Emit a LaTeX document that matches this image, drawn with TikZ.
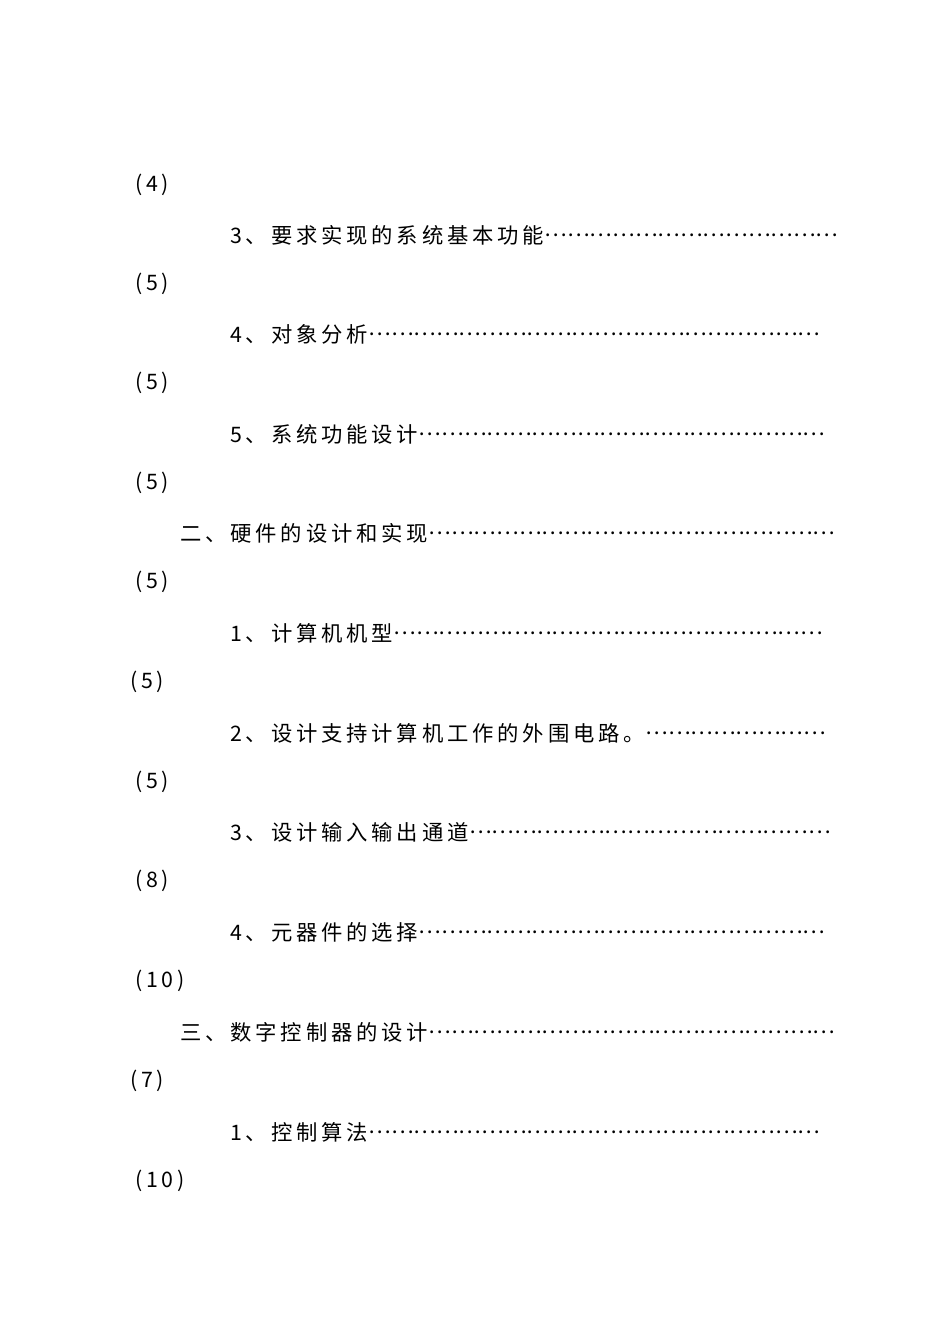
\documentclass[tikz,border=0pt]{standalone}
\usepackage{fontspec}
\setmainfont{Noto Sans CJK SC}[LetterSpace=18]
\newfontfamily\plainf{Noto Sans CJK SC}
\usetikzlibrary{calc}
\tikzset{tx/.style={anchor=west,inner sep=0pt,font=\fontsize{16pt}{18pt}\selectfont}}
\newcommand{\entry}[4]{%
  \node[tx] (#1) at (#2,#3) {#4};
  \path let \p1=(#1.east) in node[tx] (#1d) at (\x1,#3)
    {\makebox[\dimexpr 632pt-\x1\relax]{\plainf\fontsize{16pt}{18pt}\selectfont\leaders\hbox{…}\hfill}};}
\begin{document}
\begin{tikzpicture}[x=0.75pt,y=-0.75pt]
\useasboundingbox (0,0) rectangle (950,1344);
\node[tx] (p0) at (135,185) {(4)};
\entry{a}{230}{235}{3、要求实现的系统基本功能}
\node[tx] (p1) at (135,284) {(5)};
\entry{b}{230}{334}{4、对象分析}
\node[tx] (p2) at (135,383) {(5)};
\entry{c}{230}{434}{5、系统功能设计}
\node[tx] (p3) at (135,483) {(5)};
\entry{d}{180}{533}{二、硬件的设计和实现}
\node[tx] (p4) at (135,582) {(5)};
\entry{e}{230}{633}{1、计算机机型\ }
\node[tx] (p5) at (130,682) {(5)};
\entry{f}{230}{733}{2、设计支持计算机工作的外围电路。}
\node[tx] (p6) at (135,782) {(5)};
\entry{g}{230}{832}{3、设计输入输出通道}
\node[tx] (p7) at (135,881) {(8)};
\entry{h}{230}{932}{4、元器件的选择}
\node[tx] (p8) at (135,981) {(10)};
\entry{i}{180}{1032}{三、数字控制器的设计}
\node[tx] (p9) at (130,1081) {(7)};
\entry{j}{230}{1132}{1、控制算法}
\node[tx] (p10) at (135,1181) {(10)};
\end{tikzpicture}
\end{document}
